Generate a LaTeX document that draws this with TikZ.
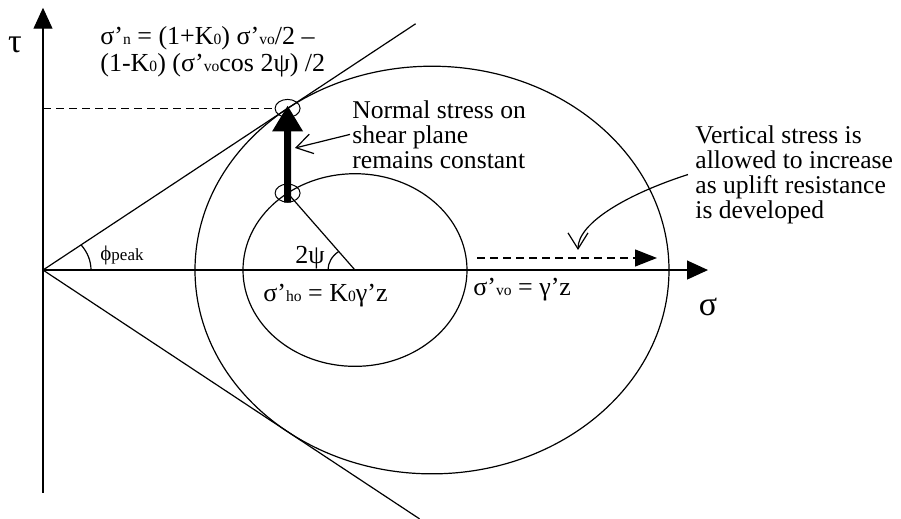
\documentclass[tikz,border=0pt]{standalone}
\usepackage{fontspec}
\setmainfont{Liberation Serif}
\usetikzlibrary{arrows.meta, shapes.geometric, positioning}
\newcommand{\sbs}[1]{{\fontsize{7.8}{7.8}\selectfont #1}}
\tikzset{
  txt/.style={inner sep=0pt, align=left, font=\fontsize{12.8}{12.5}\selectfont},
  ring/.style={ellipse, draw, line width=0.5pt, minimum width=12.5pt, minimum height=9pt, inner sep=0pt},
  ln/.style={line width=0.6pt},
  axarr/.style={ln, -{Triangle[length=10.5pt, width=9.5pt]}},
  darr/.style={ln, dash pattern=on 4pt off 2.5pt},
  ptr/.style={ln, -{Straight Barb[length=8pt, width=10pt]}},
  bigarr/.style={line width=3.5pt, -{Triangle[length=13pt, width=14.5pt]}},
  ang/.style={inner sep=0pt, anchor=base west, font=\fontsize{13}{13}\selectfont},
}

\begin{document}
\begin{tikzpicture}[x=0.5pt, y=0.43pt]
  \useasboundingbox (-43,-288.4) rectangle (858,314);

  % Points
  \coordinate (O) at (0,0);
  \coordinate (T) at (37.54:308.5);
  \coordinate (P) at (244.6,89.45);
  \coordinate (Cs) at (312,0);
  \coordinate (Cl) at (389,0);

  % Axes
  \coordinate (vbot) at (0,-259);
  \coordinate (vtop) at (0,305);
  \coordinate (hend) at (665,0);
  \draw[axarr] (vbot) -- (vtop);
  \draw[axarr] (O) -- (hend);
  \node[font=\fontsize{17}{17}\selectfont] (tau) at (-28,262) {τ};
  \node[font=\fontsize{17}{17}\selectfont] (sig) at (665,-43) {σ};

  % Mohr circles and failure envelope
  \draw[ln] (Cl) circle[radius=237];
  \draw[ln] (Cs) circle[radius=112];
  \draw[ln] (O) -- (37.54:470);
  \draw[ln] (O) -- (-37.54:475);
  \draw[ln] (P) -- (Cs);

  % Angles
  \draw[ln] (48,0) arc[start angle=0, end angle=37.54, radius=48];
  \draw[ln] (285,0) arc[start angle=180, end angle=127, radius=27];
  \node[ang] (phil) at (57,11.6) {{\fontsize{10.5}{10.5}\selectfont ϕ}{\fontsize{8.5}{8.5}\selectfont peak}};
  \node[ang] (psil) at (252,8) {2ψ};

  % Stress states
  \node[ring] (ringT) at (T) {};
  \node[ring] (ringP) at (P) {};
  \draw[darr] (O |- T) -- (ringT.west);
  \draw[bigarr, shorten >=-1.5pt] (ringP.south) -- (T);
  \coordinate (dashL) at (434,14);
  \coordinate (dashR) at (614,14);
  \draw[darr, -{Triangle[length=11pt, width=8.5pt]}] (dashL) -- (dashR);
  \node[ang] (sho) at (220,-37) {σ’\sbs{ho} = K\sbs{0}γ’z};
  \node[ang] (svo) at (430,-30) {σ’\sbs{vo} = γ’z};

  % Notes
  \node[txt, anchor=north west, font=\fontsize{13}{13.5}\selectfont] (snform) at (57,283.7)
    {σ’\sbs{n} = (1+K\sbs{0}) σ’\sbs{vo}/2 –\\(1-K\sbs{0}) (σ’\sbs{vo}cos 2ψ) /2};
  \node[txt, anchor=north west] (normtxt) at (309,197.7)
    {Normal stress on\\shear plane\\remains constant};
  \node[txt, anchor=north west] (vsttxt) at (652,168.6)
    {Vertical stress is\\allowed to increase\\as uplift resistance\\is developed};

  % Pointers
  \coordinate (shaftR) at (252,141.9);
  \coordinate (vtip) at (535,23.3);
  \draw[ptr] ([xshift=-1pt]normtxt.west) -- (shaftR);
  \draw[ptr] ([xshift=-3.5pt]vsttxt.west) .. controls (587,89.5) and (535,55.8) .. (vtip);

\end{tikzpicture}
\end{document}
